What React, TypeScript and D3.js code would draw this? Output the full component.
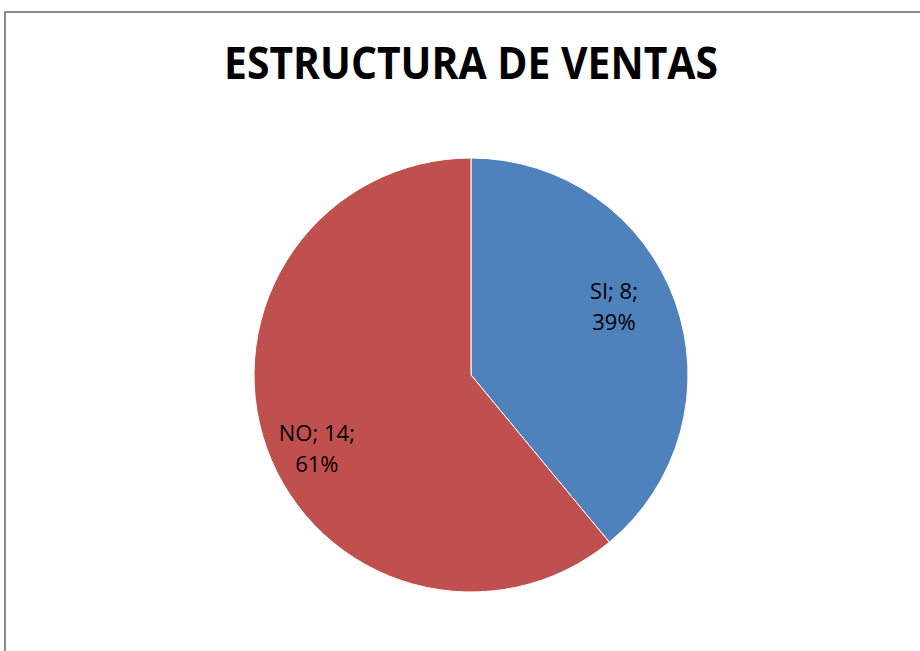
import React, { useRef, useEffect } from "react";
import * as d3 from "d3";

const categories = ["SI", "NO"];
const counts = [8, 14];
const percents = [39, 61];
const colors = ["#4F81BD", "#C0504D"];
// label radius as share of pie radius, and vertical nudge
const labelRadius = [0.7, 0.755];
const labelShift = [-18, 18];

const App = () => {
  const ref = useRef<SVGSVGElement>(null);

  useEffect(() => {
    const width = 920;
    const height = 651;
    const cx = 471;
    const cy = 375;
    const radius = 217;

    const svg = d3.select(ref.current).attr("width", width).attr("height", height);
    svg.selectAll("*").remove();

    // chart frame (runs off the right and bottom edges)
    svg
      .append("rect")
      .attr("x", 5)
      .attr("y", 12)
      .attr("width", 940)
      .attr("height", 680)
      .attr("fill", "white")
      .attr("stroke", "#8c8c8c")
      .attr("stroke-width", 2);

    svg
      .append("text")
      .attr("x", cx)
      .attr("y", 79)
      .attr("text-anchor", "middle")
      .attr("font-family", "'Open Sans', sans-serif")
      .attr("font-weight", "bold")
      .attr("font-size", 44)
      .attr("textLength", 494)
      .attr("lengthAdjust", "spacingAndGlyphs")
      .text("ESTRUCTURA DE VENTAS");

    const data = categories.map((key, i) => ({ key, count: counts[i], pct: percents[i], i }));

    const pie = d3
      .pie<any>()
      .sort(null)
      .value((d) => d.pct);

    const arcs = pie(data);
    const arc = d3.arc<any>().innerRadius(0).outerRadius(radius);

    const g = svg.append("g").attr("transform", `translate(${cx}, ${cy})`);

    g.selectAll("path")
      .data(arcs)
      .enter()
      .append("path")
      .attr("d", arc)
      .attr("fill", (d) => colors[d.data.i])
      .attr("stroke", "white")
      .attr("stroke-width", 1);

    const labels = g
      .selectAll(".label")
      .data(arcs)
      .enter()
      .append("text")
      .attr("class", "label")
      .attr("text-anchor", "middle")
      .attr("font-family", "'Open Sans', sans-serif")
      .attr("font-size", 22)
      .attr("fill", "#000")
      .attr("transform", (d) => {
        const r = radius * labelRadius[d.data.i];
        const c = d3.arc<any>().innerRadius(r).outerRadius(r).centroid(d);
        return `translate(${c[0]}, ${c[1] + labelShift[d.data.i]})`;
      });

    labels
      .append("tspan")
      .attr("x", 0)
      .attr("y", -7)
      .text((d) => `${d.data.key}; ${d.data.count};`);

    labels
      .append("tspan")
      .attr("x", 0)
      .attr("y", 24)
      .text((d) => `${d.data.pct}%`);
  }, []);

  return (
    <div style={{ position: "absolute", left: 0, top: 0 }}>
      <svg ref={ref} style={{ display: "block" }}></svg>
    </div>
  );
};

export default App;
